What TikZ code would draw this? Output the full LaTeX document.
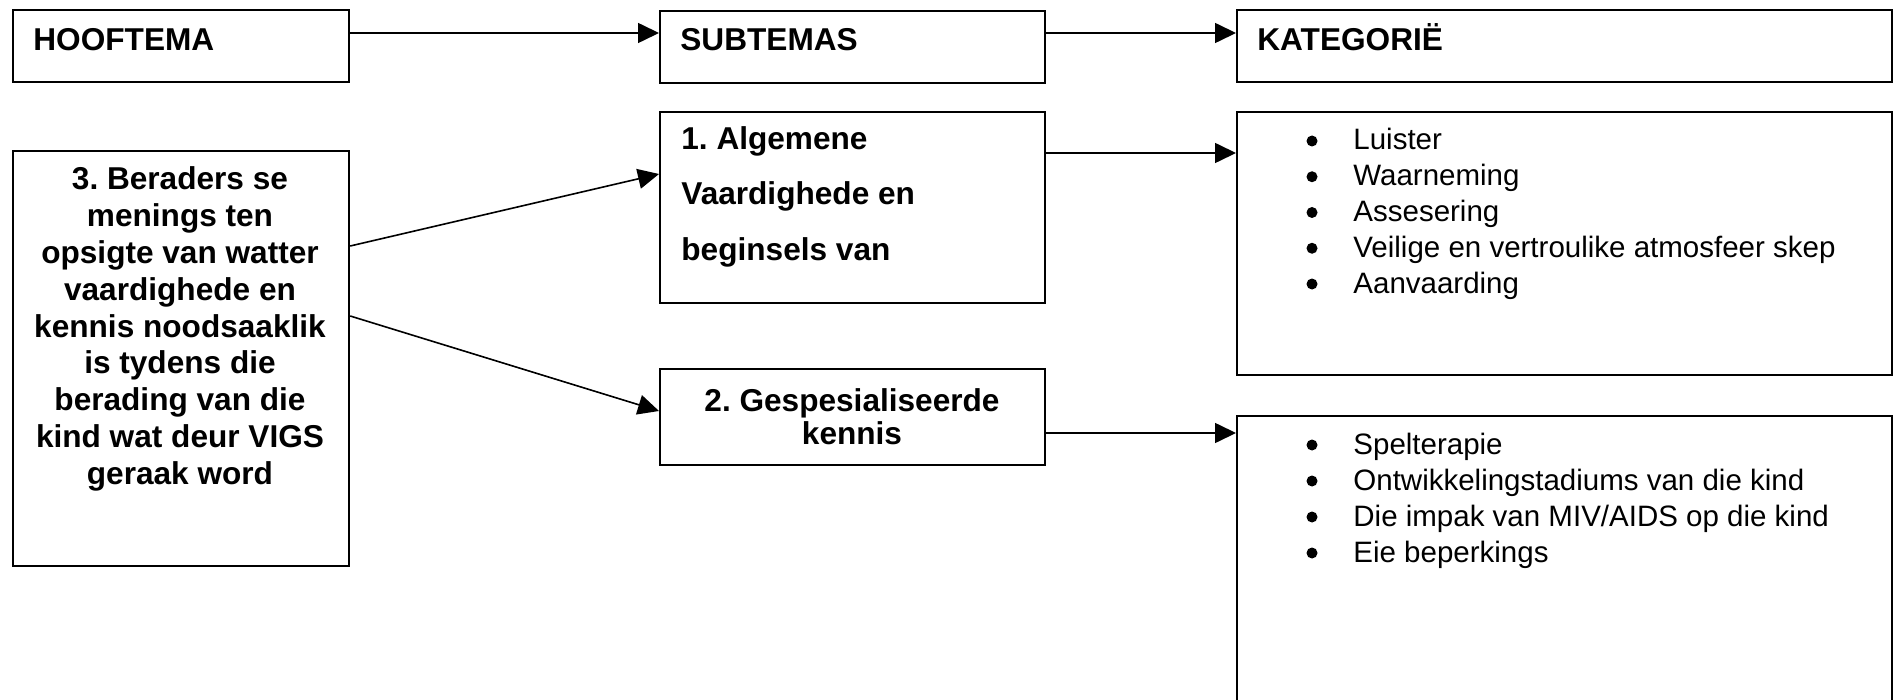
\documentclass[tikz,border=0pt]{standalone}
\usepackage{fontspec}
\setmainfont{Liberation Sans}
\usetikzlibrary{arrows.meta}
\newlength\pxu
\setlength\pxu{0.5pt}
\frenchspacing
\begin{document}
\begin{tikzpicture}[x=0.5pt,y=-0.5pt,
  box/.style={draw,line width=1.1pt,inner sep=0,anchor=north west},
  arr/.style={line width=0.8pt,-{Triangle[length=10.5pt,width=10pt]}},
  hd/.style={font=\fontsize{15.8pt}{18pt}\selectfont\bfseries,inner sep=0},
  tx/.style={font=\fontsize{14.75pt}{17pt}\selectfont,inner sep=0},
  dot/.style={circle,fill,inner sep=0,minimum size=5.5pt}]
\useasboundingbox (0,0) rectangle (1893,700);
\clip (0,0) rectangle (1893,700);
% boxes
\node[box,minimum width=336\pxu,minimum height=72\pxu] (hooftema) at (12,9) {};
\node[box,minimum width=385\pxu,minimum height=72\pxu] (subtemas) at (659,10) {};
\node[box,minimum width=655\pxu,minimum height=72\pxu] (kategorie) at (1236,9) {};
\node[box,minimum width=336\pxu,minimum height=415\pxu] (berader) at (12,150) {};
\node[box,minimum width=385\pxu,minimum height=191\pxu] (algemene) at (659,111) {};
\node[box,minimum width=385\pxu,minimum height=96\pxu] (gespes) at (659,368) {};
\node[box,minimum width=655\pxu,minimum height=263\pxu] (kat1) at (1236,111) {};
\node[box,minimum width=655\pxu,minimum height=300\pxu] (kat2) at (1236,415) {};
% connectors
\draw[arr] ([yshift=-12pt]hooftema.north east) -- ([yshift=-11.5pt]subtemas.north west);
\draw[arr] ([yshift=-11.5pt]subtemas.north east) -- ([yshift=-12pt]kategorie.north west);
\draw[arr] ([yshift=-21pt]algemene.north east) -- ([yshift=-21pt]kat1.north west);
\draw[arr] ([yshift=-32.5pt]gespes.north east) -- ([yshift=-9pt]kat2.north west);
\draw[arr] ([yshift=-48pt]berader.north east) -- ([yshift=-31.5pt]algemene.north west);
\draw[arr] ([yshift=-83pt]berader.north east) -- ([yshift=-21.5pt]gespes.north west);
% texts
\node[hd,anchor=base west] (thoof) at (33,51) {HOOFTEMA};
\node[hd,anchor=base west] (tsub) at (680,51) {SUBTEMAS};
\node[hd,anchor=base west] (tkat) at (1257,51) {KATEGORIË};
\foreach \t [count=\i from 0] in {1. Algemene, Vaardighede en, beginsels van}
  \node[hd,anchor=base west] (alg\i) at (681,{150+55*\i}) {\t};
\foreach \t [count=\i from 0] in {3. Beraders se, menings ten, opsigte van watter, vaardighede en, kennis noodsaaklik, is tydens die, berading van die, kind wat deur VIGS, geraak word}
  \node[hd,anchor=base] (ber\i) at (180,{190+36.75*\i}) {\t};
\node[hd,anchor=base] (ges0) at (852,411) {2. Gespesialiseerde};
\node[hd,anchor=base] (ges1) at (852,444) {kennis};
\foreach \t [count=\i from 0] in {Luister, Waarneming, Assesering, Veilige en vertroulike atmosfeer skep, Aanvaarding}{
  \node[dot] (ka\i) at (1312,{150+35.75*\i-9}) {};
  \node[tx,anchor=base west] (kb\i) at (1353,{150+35.75*\i}) {\t};
}
\foreach \t [count=\i from 0] in {Spelterapie, Ontwikkelingstadiums van die kind, Die impak van MIV/AIDS op die kind, Eie beperkings}{
  \node[dot] (kc\i) at (1312,{454+36*\i-9}) {};
  \node[tx,anchor=base west] (kd\i) at (1353,{454+36*\i}) {\t};
}
\end{tikzpicture}
\end{document}
